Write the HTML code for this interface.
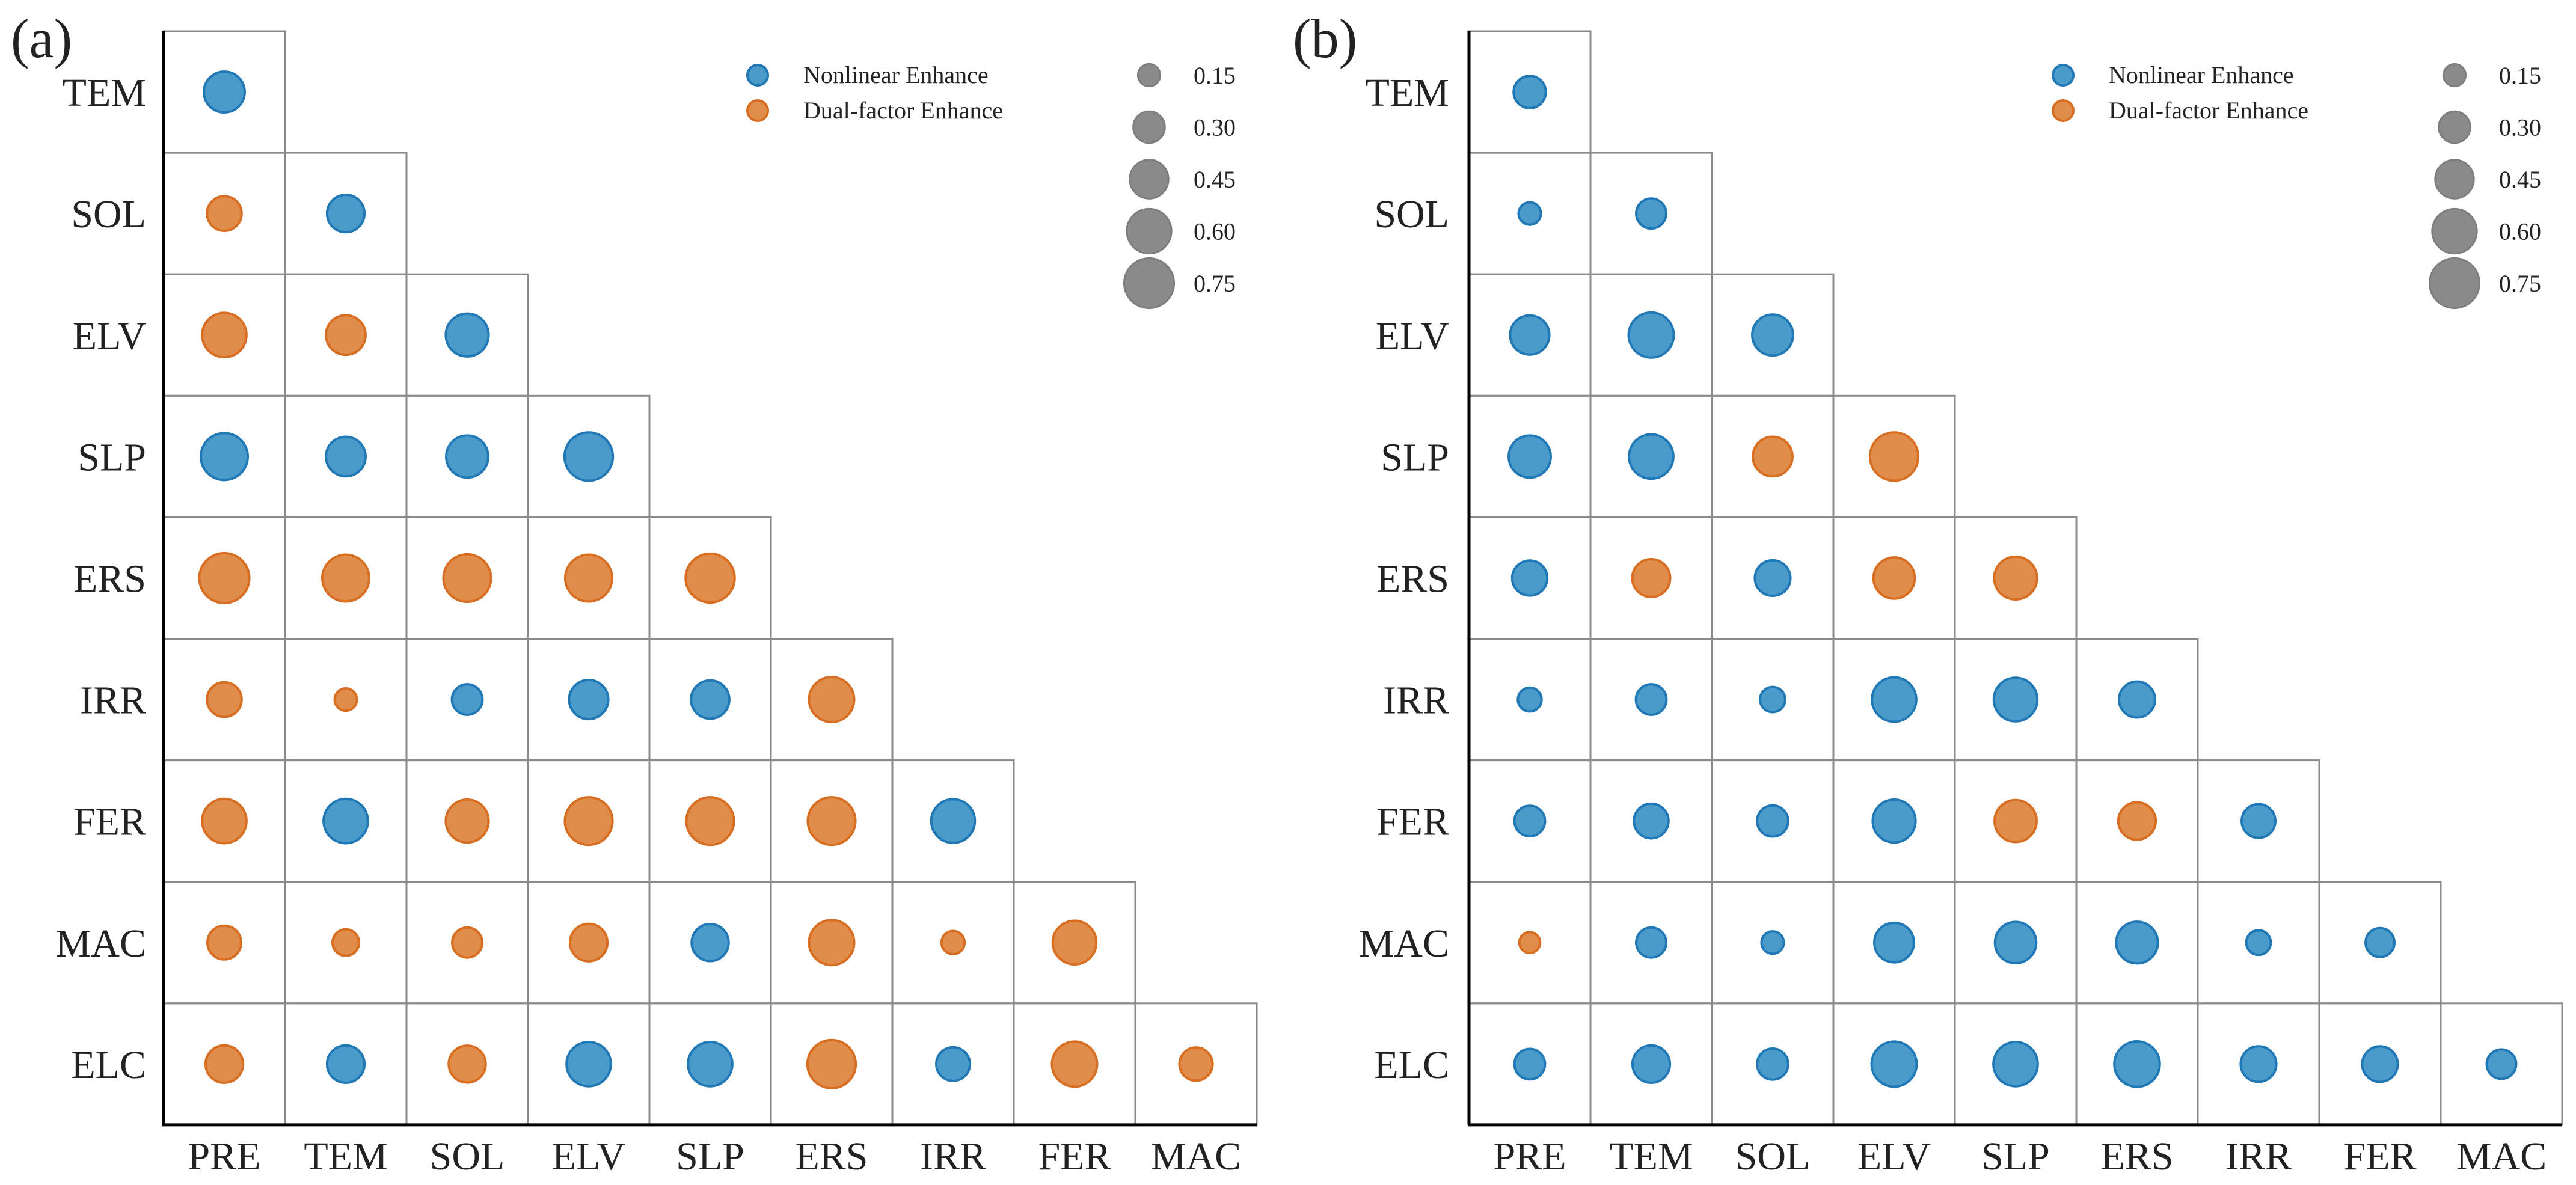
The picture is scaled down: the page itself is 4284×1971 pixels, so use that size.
<!DOCTYPE html>
<html><head><meta charset="utf-8"><style>
html,body{margin:0;padding:0;background:#fff;}
svg{display:block;font-family:"Liberation Serif",serif;}
</style></head><body>
<svg id="chart" width="4284" height="1971" viewBox="0 0 4284 1971" xmlns="http://www.w3.org/2000/svg"></svg>
<script>
const rowLabels = ["TEM","SOL","ELV","SLP","ERS","IRR","FER","MAC","ELC"];
const colLabels = ["PRE","TEM","SOL","ELV","SLP","ERS","IRR","FER","MAC"];
// values per row (lower triangle), type: N = nonlinear enhance, D = dual-factor enhance
const valuesA = [
 [0.50],
 [0.36,0.42],
 [0.59,0.47,0.55],
 [0.66,0.47,0.53,0.70],
 [0.75,0.66,0.68,0.66,0.72],
 [0.36,0.15,0.28,0.46,0.44,0.61],
 [0.59,0.59,0.55,0.68,0.68,0.68,0.57],
 [0.34,0.21,0.27,0.42,0.41,0.61,0.16,0.57],
 [0.42,0.42,0.41,0.59,0.59,0.70,0.34,0.61,0.33]
];
const typesA = [
 "N","DN","DDN","NNNN","DDDDD","DDNNND","DNDDDDN","DDDDNDDD","DNDNNDNDD"
];
const valuesB = [
 [0.31],
 [0.15,0.27],
 [0.46,0.61,0.50],
 [0.53,0.59,0.47,0.70],
 [0.37,0.43,0.38,0.51,0.55],
 [0.17,0.28,0.19,0.59,0.57,0.39],
 [0.28,0.36,0.29,0.55,0.53,0.42,0.34],
 [0.13,0.27,0.15,0.47,0.51,0.52,0.18,0.25],
 [0.28,0.42,0.29,0.61,0.59,0.62,0.38,0.38,0.26]
];
const typesB = [
 "N","NN","NNN","NNDD","NDNDD","NNNNNN","NNNNDDN","DNNNNNNN","NNNNNNNNN"
];
const sizeLegend = [0.15,0.30,0.45,0.60,0.75];

const NS="http://www.w3.org/2000/svg";
const svg=document.getElementById('chart');
const COL={N:{f:"#4a9bc9",s:"#2079b6"},D:{f:"#e08d4b",s:"#d86e22"}};
function rScale(v){return 48*Math.sqrt(v);}
function mk(tag,attrs,parent){const e=document.createElementNS(NS,tag);for(const k in attrs)e.setAttribute(k,attrs[k]);(parent||svg).appendChild(e);return e;}

function panel(id,x0,cw,values,types,letterX,ylabRight){
  const y0=52, ch=202.1, n=9;
  const g=mk('g',{});
  
  
  const xS=j=>x0+cw*(j+0.5), yS=i=>y0+ch*(i+0.5);
  for(let i=0;i<n;i++)for(let j=0;j<=i;j++){
    const r=mk('rect',{x:x0+cw*j,y:y0+ch*i,width:cw,height:ch,fill:"none",stroke:"#8a8a8a","stroke-width":3},g);
    
    
  }
  const ay=mk('line',{x1:x0,y1:y0,x2:x0,y2:y0+ch*n,stroke:"#000","stroke-width":5},g);
  
  
  const ax=mk('line',{x1:x0-2,y1:y0+ch*n,x2:x0+cw*n,y2:y0+ch*n,stroke:"#000","stroke-width":5},g);
  
  
  values.forEach((row,i)=>row.forEach((v,j)=>{
    const t=types[i][j];
    const c=mk('circle',{cx:xS(j),cy:yS(i),r:rScale(v),fill:COL[t].f,stroke:COL[t].s,"stroke-width":4},g);
    
    
  }));
  rowLabels.forEach((l,i)=>{
    const t=mk('text',{x:ylabRight,y:yS(i)+23,"text-anchor":"end","font-size":66,fill:"#222"},g);
    t.textContent=l;
    
    
  });
  colLabels.forEach((l,j)=>{
    const t=mk('text',{x:xS(j),y:1945,"text-anchor":"middle","font-size":66,fill:"#222"},g);
    t.textContent=l;
    
    
  });
  const pl=mk('text',{x:letterX,y:95,"font-size":92,fill:"#222"},g);
  pl.textContent='('+id+')';
  
  
  const lx=x0+988;
  [["N","Nonlinear Enhance",125],["D","Dual-factor Enhance",184]].forEach(([t,txt,y])=>{
    const c=mk('circle',{cx:lx,cy:y,r:17,fill:COL[t].f,stroke:COL[t].s,"stroke-width":4},g);
    
    
    const tx=mk('text',{x:lx+76,y:y+13,"font-size":40,fill:"#222"},g);
    tx.textContent=txt;
    
    
  });
  const sx=x0+1639;
  sizeLegend.forEach((v,k)=>{
    const y=125+k*86.5;
    const c=mk('circle',{cx:sx,cy:y,r:rScale(v),fill:"#8a8a8a",stroke:"#7e7e7e","stroke-width":3},g);
    
    
    const tx=mk('text',{x:sx+74,y:y+14,"font-size":40,fill:"#222"},g);
    tx.textContent=v.toFixed(2);
    
    
  });
}
panel('a',272,202,valuesA,typesA,18,243);
panel('b',2443,202,valuesB,typesB,2150,2410);
</script>
</body></html>
